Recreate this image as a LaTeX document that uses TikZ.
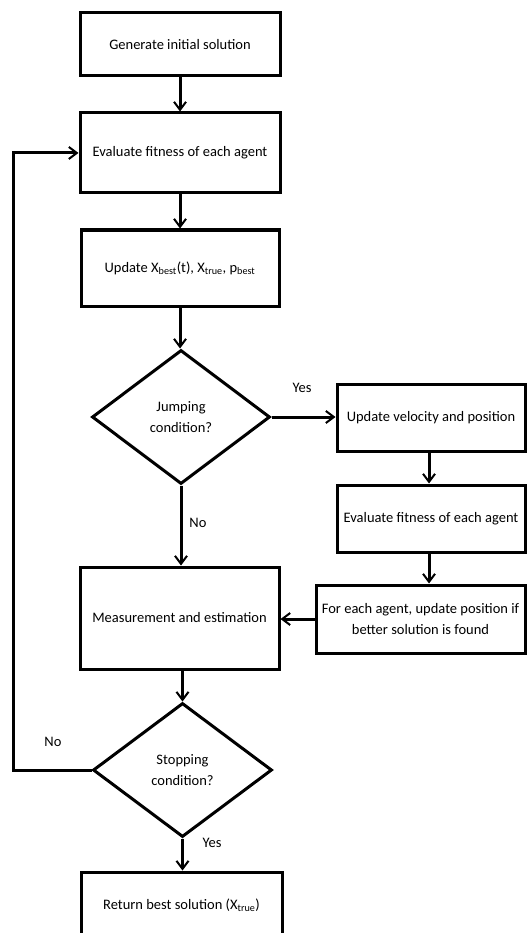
\documentclass[tikz,border=0pt]{standalone}
\usepackage{fontspec}
\setmainfont{Carlito}
\usetikzlibrary{shapes.geometric,arrows.meta}
\begin{document}
\begin{tikzpicture}[x=1pt,y=-1pt,
  box/.style={draw,line width=3pt,rectangle,inner sep=0pt,align=center,font=\fontsize{14.5}{21}\selectfont},
  dia/.style={draw,line width=3pt,diamond,inner sep=0pt,align=center,font=\fontsize{14.5}{21}\selectfont},
  arr/.style={line width=3pt,-{Straight Barb[length=8pt,width=12pt,line width=2pt]}},
  lbl/.style={font=\fontsize{14.5}{16}\selectfont,inner sep=0pt}]
\useasboundingbox (0,0) rectangle (527,933);
\clip (0,0) rectangle (527,933);
\node[box,minimum width=200pt,minimum height=63pt] (gen) at (180,44.5) {Generate initial solution};
\node[box,minimum width=200pt,minimum height=80pt] (eval) at (180,153) {Evaluate fitness of each agent};
\node[box,minimum width=198pt,minimum height=76pt] (upd) at (180,268) {Update X\textsubscript{best}(t), X\textsubscript{true}, p\textsubscript{best}};
\node[dia,minimum width=178pt,minimum height=134pt] (jump) at (181,417) {Jumping\\condition?};
\node[box,minimum width=188pt,minimum height=67pt] (vel) at (431,417.5) {Update velocity and position};
\node[box,minimum width=188pt,minimum height=67pt] (eval2) at (431,518.5) {Evaluate fitness of each agent};
\node[box,minimum width=209pt,minimum height=68pt] (fe) at (420.5,619) {For each agent, update position if\\better solution is found};
\node[box,minimum width=199pt,minimum height=102pt] (meas) at (179.5,618) {Measurement and estimation};
\node[dia,minimum width=179pt,minimum height=134pt] (stop) at (182.5,770) {Stopping\\condition?};
\node[box,minimum width=201pt,minimum height=66pt] (ret) at (181.5,905) {Return best solution (X\textsubscript{true})};
\coordinate (lx) at (13,770);
\draw[arr] (gen) -- (eval);
\draw[arr] (eval) -- (upd);
\draw[arr] (upd.south) -- (upd.south |- jump.north);
\draw[arr] (jump.east) -- (vel.west |- jump.east);
\node[lbl] (yes1) at (302,388) {Yes};
\draw[arr] (429,0 |- vel.south) -- (429,0 |- eval2.north);
\draw[arr] (429,0 |- eval2.south) -- (429,0 |- fe.north);
\draw[arr] (fe.west) -- (meas.east |- fe.west);
\draw[arr] (jump.south) -- (jump.south |- meas.north);
\node[lbl] (no1) at (198,523) {No};
\draw[arr] (stop.north |- meas.south) -- (stop.north);
\draw[arr] (stop.west) -- (lx) |- (eval.west);
\node[lbl] (no2) at (53,742) {No};
\draw[arr] (stop.south) -- (stop.south |- ret.north);
\node[lbl] (yes2) at (212,843) {Yes};
\end{tikzpicture}
\end{document}
